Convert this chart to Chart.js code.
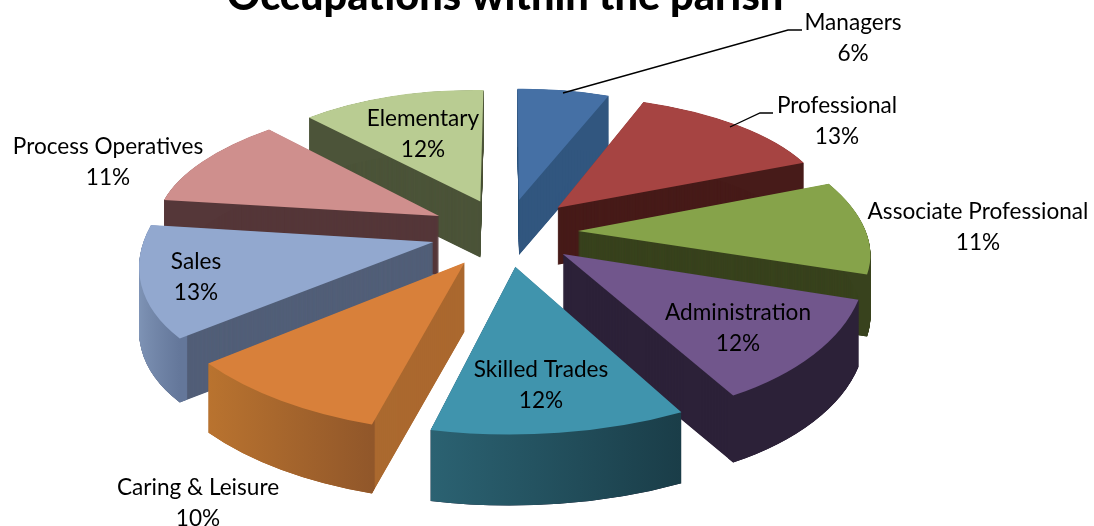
<!DOCTYPE html>
<html><head><meta charset="utf-8">
<style>html,body{margin:0;padding:0;background:#fff}canvas{display:block}</style>
<script src="https://cdn.jsdelivr.net/npm/chart.js@4"></script>
</head><body><canvas id="c" width="1094" height="526"></canvas>
<script>
const categories=["Managers","Professional","Associate Professional","Administration","Skilled Trades","Caring & Leisure","Sales","Process Operatives","Elementary"];
const shares=[6,13,11,12,12,10,13,11,12];
const topColors=["#4570a5","#a64442","#86a34a","#71568c","#4094ad","#d8803a","#92a8cf","#cf8f8d","#b9cc92"];
const innerWall=["#31567f","#471b19","#38421d","#2c2138","#2c2138","#ab692f","#525f78","#553739","#4c5439"];
const outerWallA=["#31567f","#471b19","#38421d","#2c2138","#2b6272","#b9732f","#8196b8","#553739","#4c5439"];
const outerWallB=["#31567f","#471b19","#38421d","#2c2138","#1a3d48","#91572a","#64779a","#553739","#4c5439"];
const explode=[.25,.26,.25,.25,.25,.26,.26,.265,.25];
const labelAt=[[853,23],[837,106],[978,212],[738,313],[541,370],[198,488],[196,262],[108,147],[423,119]];
const leaders=[[[563,93],[788,30],[802,30]],[[730,127],[760,113],[773,113]]];
const view={cx:506,cy:232,A:288,B:135,p:.14,depth:62,fs:22.6,gap:30.5};

const F=(X,Y)=>{const w=1/(1-view.p*Y);return{x:view.cx+view.A*X*w,y:view.cy+view.B*Y*w,w}};
const pie3d={id:'pie3d',
 beforeDatasetsDraw(chart){
  const ctx=chart.ctx,arcs=chart.getDatasetMeta(0).data;
  const items=arcs.map((arc,i)=>{
    const m=(arc.startAngle+arc.endAngle)/2,E=explode[i];
    return{arc,i,ax:E*Math.cos(m),ay:E*Math.sin(m),py:(E+.62)*Math.sin(m)};
  }).sort((a,b)=>a.py-b.py);
  const plain=c=>({backgroundColor:c,borderColor:c,borderWidth:0,offset:0,spacing:0,circular:true,borderRadius:0,borderAlign:'center',borderJoinStyle:'round'});
  for(const it of items){
    const {arc,i,ax,ay,py}=it,R=arc.outerRadius;
    const c1=Math.cos(arc.startAngle),s1=Math.sin(arc.startAngle),c2=Math.cos(arc.endAngle),s2=Math.sin(arc.endAngle);
    const q0=F(ax,ay),q1=F(ax+c1,ay+s1),q2=F(ax+c2,ay+s2);
    const det=c1*s2-c2*s1;
    const dx1=q1.x-q0.x,dy1=q1.y-q0.y,dx2=q2.x-q0.x,dy2=q2.y-q0.y;
    const a=(dx1*s2-dx2*s1)/det,c=(dx2*c1-dx1*c2)/det,b=(dy1*s2-dy2*s1)/det,e=(dy2*c1-dy1*c2)/det;
    const setT=d=>{ctx.translate(0,d);ctx.transform(a/R,b/R,c/R,e/R,q0.x,q0.y);ctx.translate(-arc.x,-arc.y)};
    const w=1/(1-view.p*py);
    const D=Math.round(view.depth*w);
    const flat=Object.create(arc);flat.options=plain(innerWall[i]);flat.innerRadius=0;flat.pixelMargin=0;
    for(let d=D;d>=.5;d-=.5){ctx.save();setT(d);flat.draw(ctx);ctx.restore()}
    let lo=1e9,hi=-1e9;
    for(let t=0;t<=20;t++){const v=Math.cos(arc.startAngle+(arc.endAngle-arc.startAngle)*t/20);lo=Math.min(lo,v);hi=Math.max(hi,v)}
    const g=ctx.createLinearGradient(arc.x+lo*R,0,arc.x+hi*R,0);g.addColorStop(0,outerWallA[i]);g.addColorStop(1,outerWallB[i]);
    const ring=Object.create(arc);ring.options=plain(g);ring.innerRadius=R*.97;
    for(let d=D;d>=.5;d-=.5){ctx.save();setT(d);ring.draw(ctx);ctx.restore()}
    const top=Object.create(arc);top.options=plain(topColors[i]);top.innerRadius=0;
    ctx.save();setT(0);top.draw(ctx);ctx.restore();
  }
  return false;
 },
 afterDraw(chart){
  const ctx=chart.ctx;ctx.save();
  ctx.strokeStyle='#000';ctx.lineWidth=1.3;
  for(const l of leaders){ctx.beginPath();l.forEach((p,j)=>j?ctx.lineTo(p[0],p[1]):ctx.moveTo(p[0],p[1]));ctx.stroke()}
  ctx.fillStyle='#000';ctx.textAlign='center';ctx.textBaseline='middle';ctx.font=view.fs+'px Lato';
  categories.forEach((c,i)=>{const [x,y]=labelAt[i];ctx.fillText(c,x,y);ctx.fillText(shares[i]+'%',x,y+view.gap)});
  ctx.restore();
 }};
new Chart(document.getElementById('c'),{type:'pie',
 data:{labels:categories,datasets:[{data:shares,backgroundColor:topColors,borderWidth:0}]},
 options:{responsive:false,animation:false,events:[],layout:{padding:{right:84}},
  plugins:{legend:{display:false},tooltip:{enabled:false},
   title:{display:true,text:'Occupations within the parish',color:'#000',font:{family:'Lato',size:41.5,weight:'900'},padding:{top:-28,bottom:0}}}},
 plugins:[pie3d]});
</script></body></html>
